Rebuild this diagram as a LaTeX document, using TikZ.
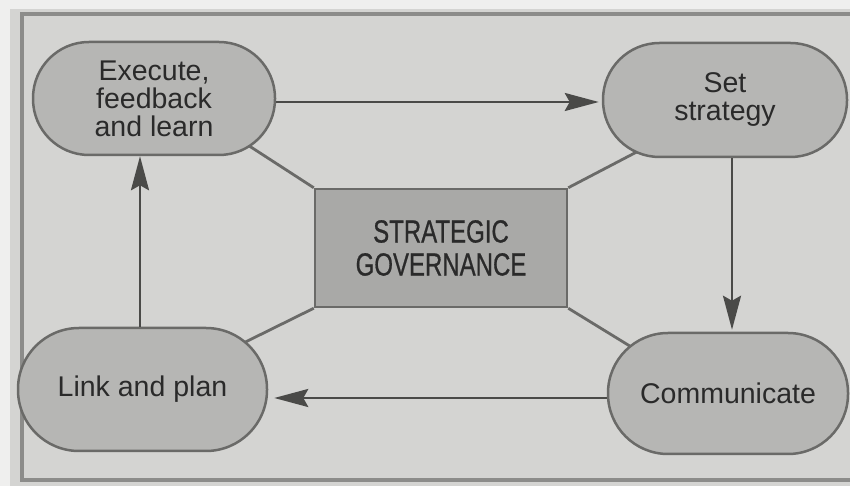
\documentclass[tikz,border=0pt]{standalone}
\usepackage{fontspec}
\setmainfont{Liberation Sans}
\newfontfamily\govfont[FakeBold=0.8]{Liberation Sans}
\usetikzlibrary{arrows.meta}
\pgfdeclarelayer{bg}
\pgfdeclarelayer{lines}
\pgfsetlayers{bg,lines,main}
\definecolor{pagebg}{HTML}{D4D4D2}
\definecolor{outerbg}{HTML}{EFEFEE}
\definecolor{nodefill}{HTML}{B6B6B4}
\definecolor{govfill}{HTML}{A9A9A7}
\definecolor{nodeline}{HTML}{6A6A68}
\definecolor{arrowc}{HTML}{4A4A48}
\definecolor{framec}{HTML}{8C8C8A}
\definecolor{txt}{HTML}{2A2A2A}
\begin{document}
\begin{tikzpicture}[x=1pt,y=1pt,
  stage/.style={draw=nodeline, line width=2.5pt, fill=nodefill, text=txt, align=center,
    inner sep=0pt, font=\fontsize{28.5}{28}\selectfont},
  gov/.style={draw=nodeline, line width=2.5pt, fill=govfill, text=txt, align=center,
    inner sep=0pt, minimum width=252pt, minimum height=118pt, font=\govfont\fontsize{32}{33}\selectfont},
  flow/.style={draw=arrowc, line width=2.5pt, -{Stealth[length=34pt,width=18pt,inset=5pt]}},
  spoke/.style={draw=nodeline, line width=2.8pt},
  frameline/.style={draw=framec, line width=4pt}]
\useasboundingbox (0,0) rectangle (850,486);
\begin{pgfonlayer}{bg}
  \fill[outerbg] (0,0) rectangle (850,486);
  \fill[pagebg] (10,0) rectangle (850,477);
  \draw[frameline] (850,472) -- (22,472) -- (22,6) -- (850,6);
\end{pgfonlayer}

\node[stage, minimum width=242pt, minimum height=113pt, rounded corners=56pt] (exec) at (154,387.5) {Execute,\\feedback\\and learn};
\node[stage, minimum width=244pt, minimum height=114pt, rounded corners=56.5pt] (set) at (725,386) {Set\\strategy};
\node[stage, minimum width=249pt, minimum height=123pt, rounded corners=61pt] (plan) at (142.5,96.5) {Link and plan};
\node[stage, minimum width=240pt, minimum height=121pt, rounded corners=60pt] (comm) at (728,92.5) {Communicate};
\node[gov] (gov) at (441,238) {\scalebox{0.75}[1]{STRATEGIC}\\\scalebox{0.75}[1]{GOVERNANCE}};

\begin{pgfonlayer}{lines}
  \draw[spoke] (gov.north west) -- ([xshift=59pt,yshift=-24pt]exec.center);
  \draw[spoke] (gov.north east) -- ([xshift=-52pt,yshift=-33pt]set.center);
  \draw[spoke] (gov.south west) -- ([xshift=64.5pt,yshift=28.5pt]plan.center);
  \draw[spoke] (gov.south east) -- ([xshift=-66.5pt,yshift=28pt]comm.center);
\end{pgfonlayer}

\draw[flow] ([yshift=-3.5pt]exec.east) -- ([xshift=-3pt,yshift=-2pt]set.west);
\draw[flow] ([xshift=7pt]set.south) -- ([xshift=4pt,yshift=2pt]comm.north);
\draw[flow] ([yshift=-4.5pt]comm.west) -- ([xshift=6pt,yshift=-8.5pt]plan.east);
\draw[flow] ([xshift=-2.5pt]plan.north) -- ([xshift=-14pt]exec.south);
\end{tikzpicture}
\end{document}
